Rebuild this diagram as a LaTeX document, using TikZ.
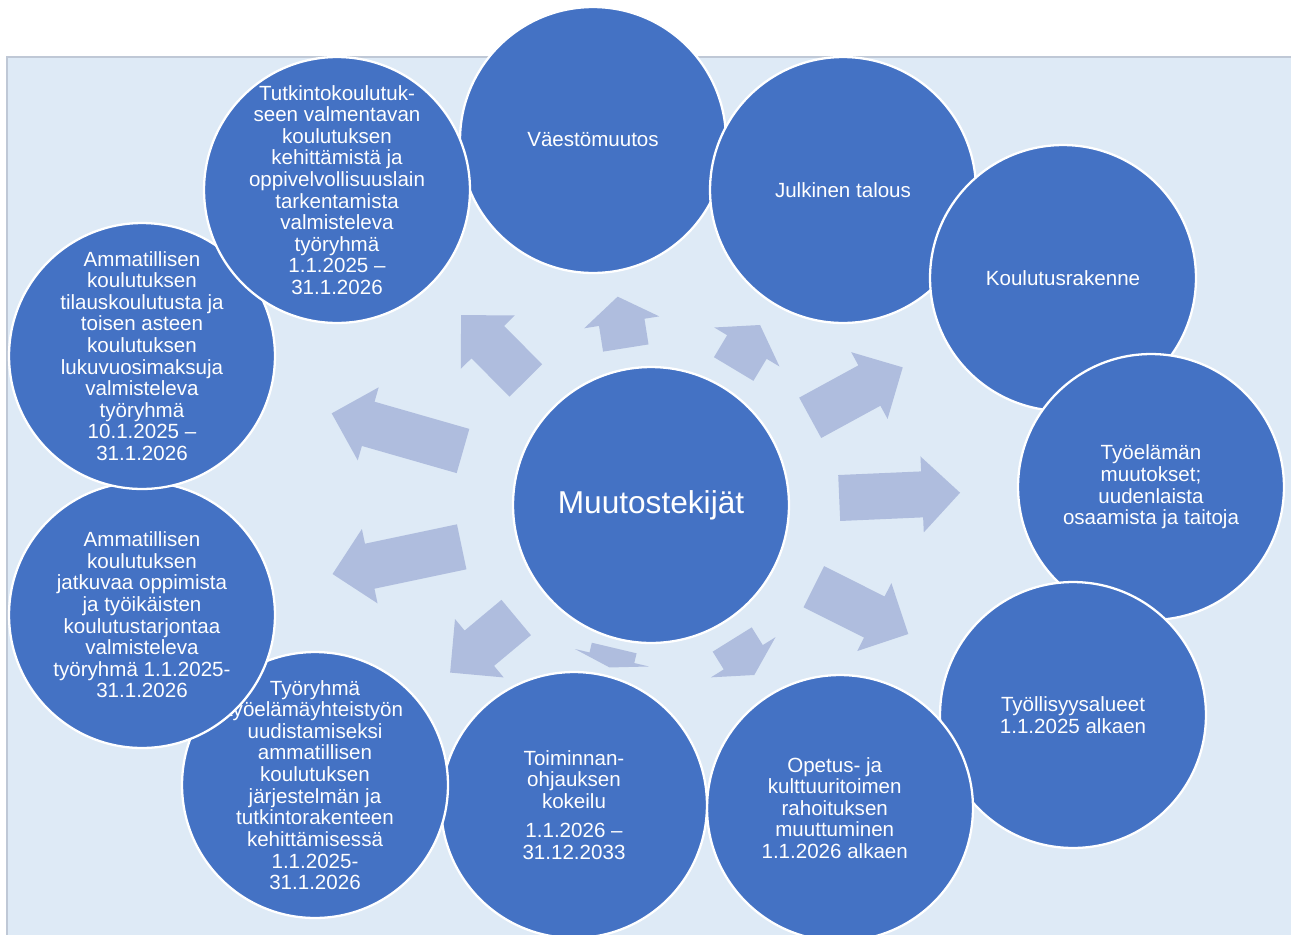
\documentclass[tikz,border=0pt]{standalone}
\usepackage{fontspec}
\setmainfont{Liberation Sans}
\definecolor{bgblue}{HTML}{DEEAF6}
\definecolor{bgline}{HTML}{BFC8D6}
\definecolor{circblue}{HTML}{4472C4}
\definecolor{arrowblue}{HTML}{AFBDDE}
% #1 tail x (px), #2 tail y (px, downwards), #3 angle, #4 length
\newcommand\radarrow[4]{%
  \pgfmathsetmacro\hdlen{min(38,#4/2)}%
  \begin{scope}[shift={(#1,-#2)}, rotate=#3]
    \fill[arrowblue] (0,-23) -- ({#4-\hdlen},-23) -- ({#4-\hdlen},-38) -- (#4,0)
      -- ({#4-\hdlen},38) -- ({#4-\hdlen},23) -- (0,23) -- cycle;
  \end{scope}}
\begin{document}
\begin{tikzpicture}[x=0.02cm,y=0.02cm,
  bubble/.style={circle, fill=circblue, draw=white, line width=1.3pt, minimum size=5.32cm, inner sep=0pt},
  bigbubble/.style={bubble, minimum size=5.52cm},
  lbl/.style={text=white, align=center, font=\fontsize{11.7}{12.3}\selectfont, inner sep=0pt},
  biglbl/.style={text=white, align=center, font=\fontsize{18}{22}\selectfont, inner sep=0pt}]
\useasboundingbox (0,0) rectangle (1291,-934);
\fill[white] (0,0) rectangle (1291,-934);
\filldraw[fill=bgblue, draw=bgline, line width=0.8pt] (7,-57) rectangle (1300,-945);

% arrows
\radarrow{525.8}{380.5}{134.7}{92}
\radarrow{625.8}{348}{99}{52}
\radarrow{733.7}{369}{59.1}{51.3}
\radarrow{810.2}{417.8}{28.6}{105.4}
\radarrow{839.2}{498}{2.5}{121}
\radarrow{813.8}{586.7}{-26.6}{105.7}
\radarrow{732.2}{639.5}{-58.1}{41.8}
\radarrow{614.2}{648}{-103.3}{20}
\radarrow{516.2}{617.5}{-140.2}{86}
\radarrow{461.7}{546.8}{191.9}{132}
\radarrow{463}{451}{164}{136.6}

% center
\node[bigbubble] (c0) at (651,-505) {};
\node[biglbl] (c0t) at (c0.center) {Muutostekijät};

% outer circles, clockwise
\node[bubble] (c1) at (593,-140) {};
\node[lbl] (c1t) at (c1.center) {Väestömuutos};
\node[bubble] (c2) at (843,-190) {};
\node[lbl] (c2t) at (c2.center) {Julkinen talous};
\node[bubble] (c3) at (1063,-278) {};
\node[lbl] (c3t) at (c3.center) {Koulutusrakenne};
\node[bubble] (c4) at (1151,-487) {};
\node[lbl] (c4t) at (c4.center) {Työelämän\\muutokset;\\uudenlaista\\osaamista ja taitoja};
\node[bubble] (c5) at (1073,-715) {};
\node[lbl] (c5t) at (c5.center) {Työllisyysalueet\\1.1.2025 alkaen};
\node[bubble] (c6) at (840,-808) {};
\node[lbl] (c6t) at ([xshift=-3]c6.center) {Opetus- ja\\kulttuuritoimen\\rahoituksen\\muuttuminen\\1.1.2026 alkaen};
\node[bubble] (c7) at (574,-805) {};
\node[lbl] (c7t) at (c7.center) {Toiminnan-\\ohjauksen\\kokeilu\\[4.5pt]1.1.2026 –\\31.12.2033};
\node[bubble] (c8) at (315,-785) {};
\node[lbl] (c8t) at (c8.center) {Työryhmä\\työelämäyhteistyön\\uudistamiseksi\\ammatillisen\\koulutuksen\\järjestelmän ja\\tutkintorakenteen\\kehittämisessä\\1.1.2025-\\31.1.2026};
\node[bubble] (c9) at (142,-615) {};
\node[lbl] (c9t) at (c9.center) {Ammatillisen\\koulutuksen\\jatkuvaa oppimista\\ja työikäisten\\koulutustarjontaa\\valmisteleva\\työryhmä 1.1.2025-\\31.1.2026};
\node[bubble] (c10) at (142,-356) {};
\node[lbl] (c10t) at (c10.center) {Ammatillisen\\koulutuksen\\tilauskoulutusta ja\\toisen asteen\\koulutuksen\\lukuvuosimaksuja\\valmisteleva\\työryhmä\\10.1.2025 –\\31.1.2026};
\node[bubble] (c11) at (337,-190) {};
\node[lbl] (c11t) at (c11.center) {Tutkintokoulutuk-\\seen valmentavan\\koulutuksen\\kehittämistä ja\\oppivelvollisuuslain\\tarkentamista\\valmisteleva\\työryhmä\\1.1.2025 –\\31.1.2026};
\end{tikzpicture}
\end{document}
